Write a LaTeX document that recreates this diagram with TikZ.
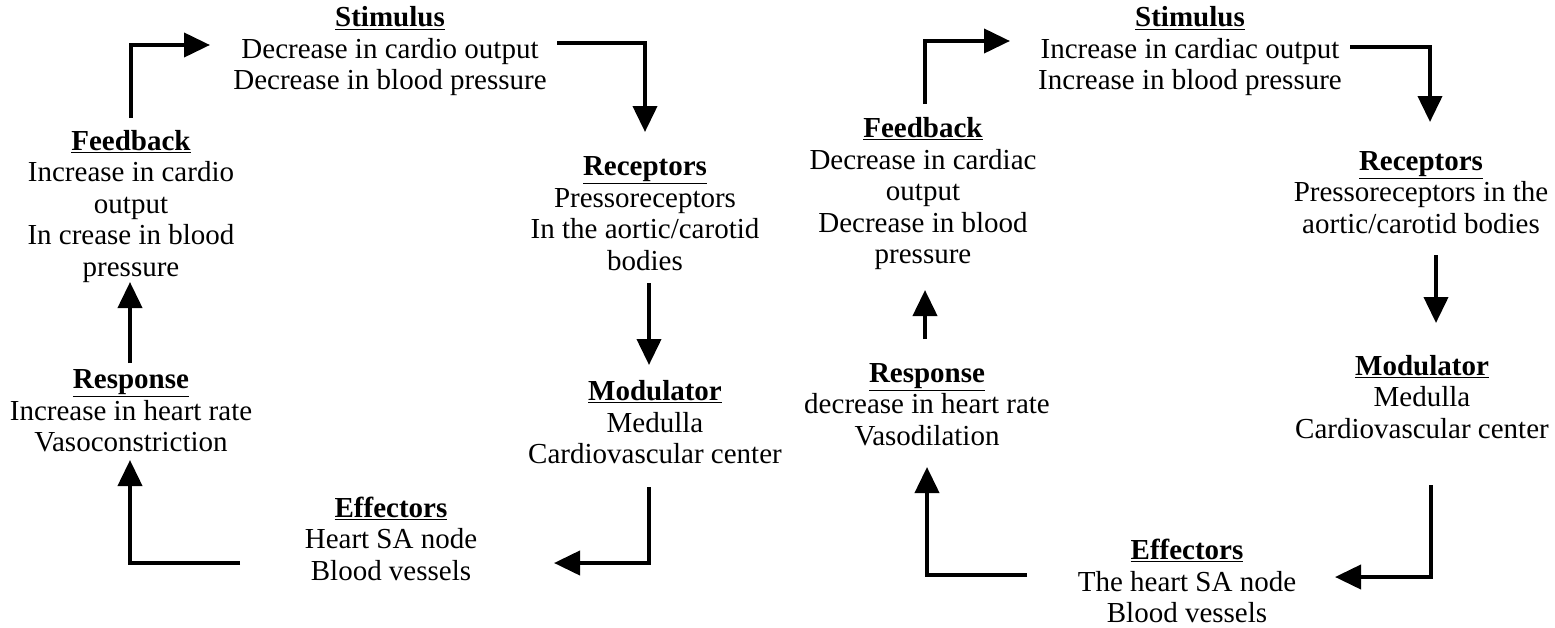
\documentclass[tikz,border=0pt]{standalone}
\usepackage{fontspec}
\setmainfont{Liberation Serif}
\usetikzlibrary{arrows.meta}
\tikzset{
  lbl/.style={align=center, inner sep=0pt, font=\fontsize{29}{31.5}\selectfont},
  conn/.style={line width=4pt, -{Triangle[length=26pt,width=24pt]}},
  plain/.style={line width=4pt}
}
\newcommand{\hd}[1]{\underline{\textbf{#1}}}
\begin{document}
\begin{tikzpicture}[x=1pt,y=-1pt]
\useasboundingbox (0,0) rectangle (1555,627);
% ---------- left cycle ----------
\node[lbl] (stL) at (390,51.5) {\hd{Stimulus}\\Decrease in cardio output\\Decrease in blood pressure};
\node[lbl] (reL) at (645,213.5) {\hd{Receptors}\\Pressoreceptors\\In the aortic/carotid\\bodies};
\node[lbl] (moL) at (655,422.5) {\hd{Modulator}\\Medulla\\Cardiovascular center};
\node[lbl] (efL) at (391,538.5) {\hd{Effectors}\\Heart SA node\\Blood vessels};
\node[lbl] (rsL) at (131,411) {\hd{Response}\\Increase in heart rate\\Vasoconstriction};
\node[lbl] (fbL) at (131,206.5) {\hd{Feedback}\\Increase in cardio\\output\\In crease in blood\\pressure};

\coordinate (fbLa) at (131,118);
\coordinate (stLa) at (210,45);
\coordinate (stLb) at (557,43);
\coordinate (reLa) at (645,132);
\coordinate (reLb) at (649,283);
\coordinate (moLa) at (649,365);
\coordinate (moLb) at (649,487);
\coordinate (efLa) at (554,563);
\coordinate (efLb) at (240,563);
\coordinate (rsLa) at (130,460);
\coordinate (rsLb) at (130,363);
\coordinate (fbLb) at (130,282);

\draw[conn] (fbLa) |- (stLa);
\draw[conn] (stLb) -| (reLa);
\draw[conn] (reLb) -- (moLa);
\draw[conn] (moLb) |- (efLa);
\draw[conn] (efLb) -| (rsLa);
\draw[conn] (rsLb) -- (fbLb);

% ---------- right cycle ----------
\node[lbl] (stR) at (1190,51.5) {\hd{Stimulus}\\Increase in cardiac output\\Increase in blood pressure};
\node[lbl] (reR) at (1421,192.5) {\hd{Receptors}\\Pressoreceptors in the\\aortic/carotid bodies};
\node[lbl] (moR) at (1422,397) {\hd{Modulator}\\Medulla\\Cardiovascular center};
\node[lbl] (efR) at (1187,581) {\hd{Effectors}\\The heart SA node\\Blood vessels};
\node[lbl] (rsR) at (927,404.5) {\hd{Response}\\decrease in heart rate\\Vasodilation};
\node[lbl] (fbR) at (923,194) {\hd{Feedback}\\Decrease in cardiac\\output\\Decrease in blood\\pressure};

\coordinate (fbRa) at (925,104);
\coordinate (stRa) at (1010,41);
\coordinate (stRb) at (1350,47);
\coordinate (reRa) at (1430,122);
\coordinate (reRb) at (1436,255);
\coordinate (moRa) at (1436,323);
\coordinate (moRb) at (1431,485);
\coordinate (efRa) at (1335,577);
\coordinate (efRb) at (1027,575);
\coordinate (rsRa) at (927,467);
\coordinate (rsRb) at (925,339);
\coordinate (fbRb) at (925,290);

\draw[conn] (fbRa) |- (stRa);
\draw[conn] (stRb) -| (reRa);
\draw[conn] (reRb) -- (moRa);
\draw[conn] (moRb) |- (efRa);
\draw[conn] (efRb) -| (rsRa);
\draw[conn] (rsRb) -- (fbRb);
\end{tikzpicture}
\end{document}
